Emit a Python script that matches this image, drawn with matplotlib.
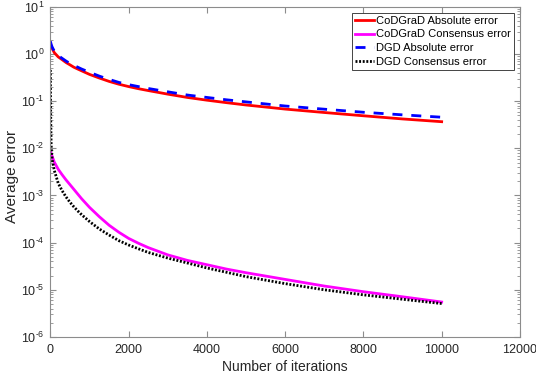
import matplotlib
matplotlib.use("Agg")
import matplotlib.pyplot as plt
from matplotlib.ticker import LogLocator, NullFormatter, MultipleLocator, FuncFormatter
import math

plt.rcParams['font.family'] = ['Liberation Sans', 'DejaVu Sans']
plt.rcParams['mathtext.fontset'] = 'custom'
plt.rcParams['mathtext.rm'] = 'Liberation Sans'
plt.rcParams['mathtext.it'] = 'Liberation Sans:italic'
plt.rcParams['mathtext.bf'] = 'Liberation Sans:bold'

iters = [0, 25, 50, 100, 200, 300, 400, 500, 600, 700, 800, 1000, 1250, 1500,
         1750, 2000, 2250, 2500, 3000, 3500, 4000, 4500, 5000, 6000, 7000,
         8000, 9000, 10000]
codgrad_abs = [1.70, 1.45, 1.29, 1.07, 0.87, 0.76, 0.66, 0.59, 0.525, 0.48,
               0.44, 0.37, 0.31, 0.263, 0.229, 0.204, 0.184, 0.168, 0.141,
               0.120, 0.105, 0.093, 0.083, 0.068, 0.0575, 0.049, 0.042, 0.0367]
dgd_abs = [1.86, 1.55, 1.38, 1.15, 0.93, 0.81, 0.71, 0.63, 0.575, 0.525, 0.48,
           0.41, 0.34, 0.29, 0.25, 0.224, 0.204, 0.186, 0.158, 0.135, 0.12,
           0.107, 0.0966, 0.079, 0.0676, 0.0582, 0.0513, 0.0457]
iters_cons = [0, 50, 100, 200, 300, 400, 500, 600, 700, 800, 1000, 1250, 1500,
              1750, 2000, 2250, 2500, 3000, 3500, 4000, 4500, 5000, 6000, 7000,
              8000, 9000, 10000]
codgrad_cons = [8.5e-3, 6.6e-3, 5.1e-3, 3.6e-3, 2.75e-3, 2.14e-3, 1.70e-3,
                1.35e-3, 1.07e-3, 8.5e-4, 5.6e-4, 3.55e-4, 2.34e-4, 1.66e-4,
                1.23e-4, 9.7e-5, 7.85e-5, 5.5e-5, 4.2e-5, 3.4e-5, 2.75e-5,
                2.3e-5, 1.66e-5, 1.2e-5, 9.1e-6, 7.1e-6, 5.5e-6]
iters_dgd_cons = [0, 5, 10, 20, 35, 50, 100, 200, 300, 400, 500, 600, 700,
                  800, 1000, 1250, 1500, 1750, 2000, 2250, 2500, 3000, 3500,
                  4000, 4500, 5000, 6000, 7000, 8000, 9000, 10000]
dgd_cons = [0.46, 0.1, 0.035, 0.012, 7.2e-3, 5.5e-3, 3.4e-3, 1.82e-3, 1.26e-3,
            9.3e-4, 7.2e-4, 5.75e-4, 4.7e-4, 3.9e-4, 2.8e-4, 1.95e-4, 1.45e-4,
            1.1e-4, 8.9e-5, 7.4e-5, 6.2e-5, 4.7e-5, 3.7e-5, 2.9e-5, 2.35e-5,
            1.9e-5, 1.35e-5, 1.0e-5, 7.8e-6, 6.3e-6, 5.1e-6]

fig = plt.figure(figsize=(5.36, 3.82), dpi=100)
ax = fig.add_axes([0.094, 0.118, 0.876, 0.864])

ax.semilogy(iters, codgrad_abs, color='#ff0000', lw=2, label='CoDGraD Absolute error')
ax.semilogy(iters_cons, codgrad_cons, color='#ff00ff', lw=2, label='CoDGraD Consensus error')
ax.semilogy(iters, dgd_abs, color='#0000ff', lw=2, ls=(0, (3.6, 3.2)), label='DGD Absolute error')
ax.semilogy(iters_dgd_cons, dgd_cons, color='black', lw=2, ls=(0, (0.7, 0.6)),
            label='DGD Consensus error')

ax.set_xlim(0, 12000)
ax.set_ylim(1e-6, 1e1)
ax.xaxis.set_major_locator(MultipleLocator(2000))
ax.yaxis.set_major_locator(LogLocator(base=10, numticks=20))
ax.yaxis.set_minor_locator(LogLocator(base=10, subs=range(2, 10), numticks=20))
ax.yaxis.set_minor_formatter(NullFormatter())


def log_fmt(v, pos):
    e = int(round(math.log10(v)))
    if e < 0:
        return r'$\mathregular{10^{\text{-}%d}}$' % (-e)
    return r'$\mathregular{10^{%d}}$' % e


ax.yaxis.set_major_formatter(FuncFormatter(log_fmt))

axcol = '#8c8c8c'
for s in ax.spines.values():
    s.set_color(axcol)
    s.set_linewidth(0.8)
ax.tick_params(which='both', direction='in', top=True, right=True, color=axcol,
               labelcolor='#262626', labelsize=9)
ax.tick_params(which='major', length=4)
ax.tick_params(axis='x', which='major', pad=5)
ax.tick_params(axis='y', which='major', pad=4)
ax.tick_params(which='minor', length=2)

ax.set_xlabel('Number of iterations', fontsize=10, color='#262626', labelpad=3)
ax.set_ylabel('Average error', fontsize=11, color='#262626')
ax.yaxis.set_label_coords(-0.066, 0.485)

leg = ax.legend(loc='upper right', fontsize=8, handlelength=1.7, handletextpad=0.2,
                borderpad=0.25, labelspacing=0.33, fancybox=False, framealpha=1,
                edgecolor='#262626', borderaxespad=0.55)
leg.get_frame().set_linewidth(0.6)

fig.savefig('out.png', dpi=100)
